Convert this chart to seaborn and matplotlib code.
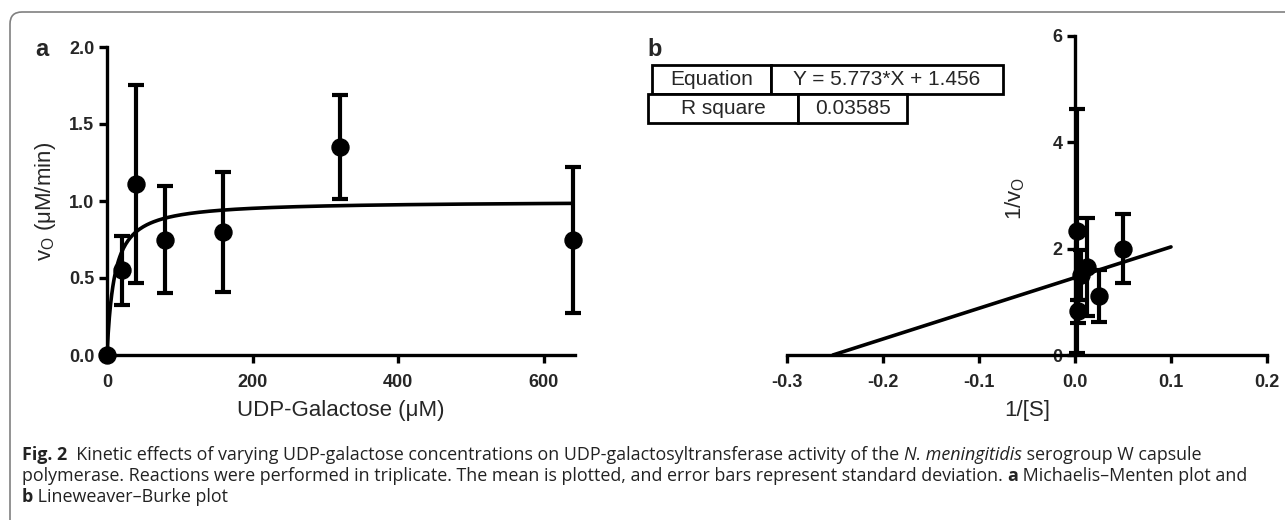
import numpy as np
import pandas as pd
import seaborn as sns
import matplotlib.pyplot as plt
from matplotlib import font_manager
from matplotlib.patches import Rectangle, FancyBboxPatch

# Michaelis-Menten data (panel a)
s_conc = [0, 20, 40, 80, 160, 320, 640]
v0_mean = [0.0, 0.55, 1.11, 0.75, 0.80, 1.35, 0.745]
v0_sd = [0.0, 0.225, 0.645, 0.35, 0.39, 0.34, 0.475]
mm_vmax = 1.0
mm_km = 10.0

# Lineweaver-Burke data (panel b)
inv_s = [0.05, 0.025, 0.0125, 0.00625, 0.003125, 0.0015625]
inv_v_mean = [2.0, 1.11, 1.65, 1.50, 0.82, 2.33]
inv_v_sd = [0.65, 0.48, 0.92, 0.47, 0.21, 2.30]
lb_slope = 5.773
lb_intercept = 1.456
lb_r2 = 0.03585

a_xticks = [0, 200, 400, 600]
a_yticks = [0.0, 0.5, 1.0, 1.5, 2.0]
b_xticks = [-0.3, -0.2, -0.1, 0.0, 0.1, 0.2]
b_yticks = [0, 2, 4, 6]

sns.set_style('ticks')
names = {f.name for f in font_manager.fontManager.ttflist}
plt.rcParams['font.family'] = ['Liberation Sans', 'DejaVu Sans']
plt.rcParams['axes.unicode_minus'] = False
plt.rcParams['mathtext.fontset'] = 'custom'
plt.rcParams['mathtext.rm'] = 'Liberation Sans'
cap_font = ['Liberation Sans Narrow', 'Open Sans', 'DejaVu Sans'] if 'Liberation Sans Narrow' in names else ['Open Sans', 'DejaVu Sans']

W, H = 1285, 520
fig = plt.figure(figsize=(W / 100, H / 100), dpi=100)


def box(l, t, r, b):
    return [l / W, 1 - b / H, (r - l) / W, (b - t) / H]


def style_axis(ax):
    for side in ['top', 'right']:
        ax.spines[side].set_visible(False)
    for side in ['left', 'bottom']:
        ax.spines[side].set_linewidth(2.4)
        ax.spines[side].set_color('black')
    ax.tick_params(width=2.4, length=6, color='black', pad=3)
    ax.tick_params(axis='x', pad=8)
    for lab in ax.get_xticklabels() + ax.get_yticklabels():
        lab.set_fontweight('bold')
        lab.set_fontsize(13)


# panel a
ax1 = fig.add_axes(box(107, 47, 575, 355))
mm = pd.DataFrame({'S': s_conc, 'v0': v0_mean})
s_fit = np.linspace(0, 640, 400)
fit = pd.DataFrame({'S': s_fit, 'v': mm_vmax * s_fit / (mm_km + s_fit)})
sns.lineplot(data=fit, x='S', y='v', color='black', linewidth=2.6, ax=ax1)
ax1.errorbar(s_conc, v0_mean, yerr=v0_sd, fmt='none', ecolor='black',
             elinewidth=3, capsize=5.5, capthick=3, clip_on=False)
sns.scatterplot(data=mm, x='S', y='v0', color='black', s=150, edgecolor='black',
                ax=ax1, clip_on=False, zorder=5)
ax1.set_xlim(0, 643)
ax1.set_ylim(0, 2.0)
ax1.set_xticks(a_xticks)
ax1.set_yticks(a_yticks)
ax1.set_yticklabels([f'{v:.1f}' for v in a_yticks])
ax1.set_xlabel('UDP-Galactose (\u03bcM)', fontsize=16, labelpad=6)
ax1.set_ylabel('v$_\\mathregular{O}$ (\u03bcM/min)', fontsize=16, labelpad=8)
style_axis(ax1)

# panel b
ax2 = fig.add_axes(box(787, 36, 1267, 355))
lb = pd.DataFrame({'invS': inv_s, 'invV': inv_v_mean})
x_line = np.array([-lb_intercept / lb_slope, 0.1])
line = pd.DataFrame({'x': x_line, 'y': lb_slope * x_line + lb_intercept})
sns.lineplot(data=line, x='x', y='y', color='black', linewidth=2.6, ax=ax2)
ax2.errorbar(inv_s, inv_v_mean, yerr=inv_v_sd, fmt='none', ecolor='black',
             elinewidth=3, capsize=5.5, capthick=3, clip_on=False)
sns.scatterplot(data=lb, x='invS', y='invV', color='black', s=150, edgecolor='black',
                ax=ax2, clip_on=False, zorder=5)
ax2.set_xlim(-0.3, 0.2)
ax2.set_ylim(0, 6)
ax2.spines['left'].set_position(('data', 0))
ax2.spines['bottom'].set_position(('data', 0))
ax2.set_xticks(b_xticks)
ax2.set_xticklabels([f'{v:.1f}' for v in b_xticks])
ax2.set_yticks(b_yticks)
ax2.set_xlabel('1/[S]', fontsize=16, labelpad=6)
ax2.set_ylabel('1/v$_\\mathregular{O}$', fontsize=16)
ax2.yaxis.set_label_coords(0.50, 0.49)
style_axis(ax2)

# panel letters
fig.text(42 / W, 1 - 50 / H, 'a', fontsize=17, fontweight='bold', ha='center', va='center')
fig.text(655 / W, 1 - 50 / H, 'b', fontsize=17, fontweight='bold', ha='center', va='center')

# fit table
rows = [
    (652, 771, 1003, 65, 94, 'Equation', f'Y = {lb_slope}*X + {lb_intercept}'),
    (648, 798, 907, 94, 123, 'R square', f'{lb_r2}'),
]
for l, m, r, t, b, k, v in rows:
    for x0, x1 in [(l, m), (m, r)]:
        fig.add_artist(Rectangle((x0 / W, 1 - b / H), (x1 - x0) / W, (b - t) / H,
                                 transform=fig.transFigure, facecolor='white',
                                 edgecolor='black', linewidth=2))
    yc = 1 - (t + b) / 2 / H
    fig.text((l + m) / 2 / W, yc, k, fontsize=15, ha='center', va='center')
    fig.text((m + r) / 2 / W, yc, v, fontsize=15, ha='center', va='center')

# frame
fig.add_artist(FancyBboxPatch((10, -30), 1300, 538, boxstyle='round,pad=0,rounding_size=12',
                              transform=None, facecolor='none', edgecolor='#808080', linewidth=1.2))

# caption
lines = [
    (455, [('Fig. 2', 'bold', 'normal'),
           ('  Kinetic effects of varying UDP-galactose concentrations on UDP-galactosyltransferase activity of the ', 'normal', 'normal'),
           ('N. meningitidis', 'normal', 'italic'),
           (' serogroup W capsule', 'normal', 'normal')]),
    (476, [('polymerase. Reactions were performed in triplicate. The mean is plotted, and error bars represent standard deviation. ', 'normal', 'normal'),
           ('a', 'bold', 'normal'),
           (' Michaelis\u2013Menten plot and', 'normal', 'normal')]),
    (497, [('b', 'bold', 'normal'),
           (' Lineweaver\u2013Burke plot', 'normal', 'normal')]),
]
renderer = fig.canvas.get_renderer()
cap_size = 12.9
for y, parts in lines:
    x = 22
    for txt, wt, st in parts:
        t = fig.text(x / W, 1 - y / H, txt, fontsize=cap_size, fontweight=wt, fontstyle=st,
                     family=cap_font, color='#222222', ha='left', va='center')
        x += t.get_window_extent(renderer).width

fig.savefig('out.png', dpi=100)
